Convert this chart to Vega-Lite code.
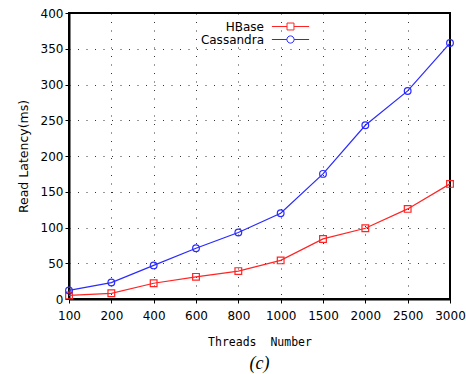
{
  "$schema": "https://vega.github.io/schema/vega-lite/v6.json",
  "width": 381,
  "height": 286,
  "autosize": {"type": "none"},
  "padding": {"left": 69, "top": 13, "right": 16, "bottom": 75},
  "background": "white",
  "title": {"text": "(c)", "orient": "bottom", "font": "Liberation Serif", "fontStyle": "italic", "fontWeight": "normal", "fontSize": 18, "color": "black", "offset": 7, "anchor": "middle"},
  "data": {"values": [
    {"threads": "100", "series": "HBase", "latency": 5},
    {"threads": "200", "series": "HBase", "latency": 8},
    {"threads": "400", "series": "HBase", "latency": 22},
    {"threads": "600", "series": "HBase", "latency": 31},
    {"threads": "800", "series": "HBase", "latency": 39},
    {"threads": "1000", "series": "HBase", "latency": 54},
    {"threads": "1500", "series": "HBase", "latency": 84},
    {"threads": "2000", "series": "HBase", "latency": 99},
    {"threads": "2500", "series": "HBase", "latency": 126},
    {"threads": "3000", "series": "HBase", "latency": 161},
    {"threads": "100", "series": "Cassandra", "latency": 12},
    {"threads": "200", "series": "Cassandra", "latency": 23},
    {"threads": "400", "series": "Cassandra", "latency": 47},
    {"threads": "600", "series": "Cassandra", "latency": 71},
    {"threads": "800", "series": "Cassandra", "latency": 93},
    {"threads": "1000", "series": "Cassandra", "latency": 120},
    {"threads": "1500", "series": "Cassandra", "latency": 175},
    {"threads": "2000", "series": "Cassandra", "latency": 243},
    {"threads": "2500", "series": "Cassandra", "latency": 291},
    {"threads": "3000", "series": "Cassandra", "latency": 358}
  ]},
  "encoding": {
    "x": {"field": "threads", "type": "ordinal", "sort": ["100","200","400","600","800","1000","1500","2000","2500","3000"],
      "scale": {"type": "point", "padding": 0},
      "axis": {"title": "Threads\u00a0\u00a0Number", "labelAngle": 0, "labelPadding": 7, "titlePadding": 15,
        "titleFont": "DejaVu Sans Mono", "titleFontSize": 11.5}},
    "y": {"field": "latency", "type": "quantitative", "scale": {"domain": [0, 400], "nice": false},
      "axis": {"title": "Read\u00a0Latency(ms)", "values": [0,50,100,150,200,250,300,350,400], "titlePadding": 10,
        "titleFont": "DejaVu Sans", "titleFontSize": 12.5}},
    "color": {"field": "series", "type": "nominal", "scale": {"domain": ["HBase","Cassandra"], "range": ["#ff2424","#2a2aff"]},
      "legend": {"title": null, "orient": "none", "legendX": 215, "legendY": 7,
        "labelOffset": -33, "labelAlign": "right", "labelFontSize": 12, "labelFont": "DejaVu Sans", "labelColor": "black",
        "rowPadding": 0, "symbolStrokeWidth": 1, "symbolSize": 144,
        "encode": {"symbols": {"update": {
          "shape": {"signal": "datum.value === 'HBase' ? 'M-3.1,0H-0.58M0.58,0H3.1M-0.58,-0.58H0.58V0.58H-0.58Z' : 'M-3.1,0H-0.6M0.6,0H3.1M-0.6,0A0.6,0.6 0 1,0 0.6,0A0.6,0.6 0 1,0 -0.6,0Z'"},
          "size": {"value": 144},
          "fill": {"value": "transparent"},
          "strokeWidth": {"value": 1}
        }}}}}
  },
  "layer": [
    {"mark": {"type": "line", "strokeWidth": 1.2}},
    {"transform": [{"filter": "datum.series === 'HBase'"}],
      "mark": {"type": "point", "shape": "square", "filled": false, "size": 45, "strokeWidth": 1.2, "opacity": 1}},
    {"transform": [{"filter": "datum.series === 'Cassandra'"}],
      "mark": {"type": "point", "shape": "circle", "filled": false, "size": 45, "strokeWidth": 1.2, "opacity": 1}}
  ],
  "config": {
    "view": {"stroke": "black", "strokeWidth": 2},
    "axis": {
      "domainColor": "black", "domainWidth": 2,
      "tickColor": "black", "tickSize": 4, "tickWidth": 1,
      "grid": true, "gridColor": "black", "gridDash": [1, 7.5], "gridOpacity": 0.8, "gridWidth": 1,
      "labelFont": "DejaVu Sans", "labelFontSize": 12, "labelColor": "black",
      "titleFont": "DejaVu Sans", "titleFontSize": 11, "titleFontWeight": "normal", "titleColor": "black"
    }
  }
}
